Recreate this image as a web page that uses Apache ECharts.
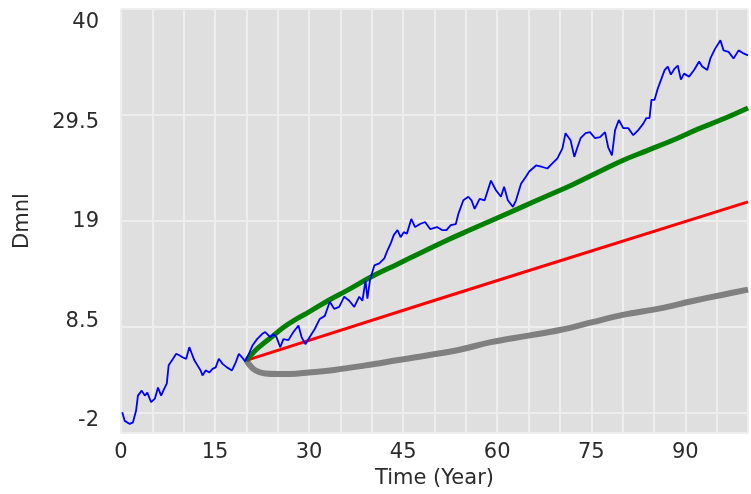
<!DOCTYPE html>
<html>
<head>
<meta charset="utf-8">
<script src="https://cdn.jsdelivr.net/npm/echarts@6/dist/echarts.min.js"></script>
<style>
  html, body { margin: 0; padding: 0; background: #fff; }
  #chart { width: 751px; height: 494px; }
</style>
</head>
<body>
<div id="chart"></div>
<script>
// values
var blueTime = [0.2, 0.6, 1.4, 1.9, 2.4, 2.7, 3.3, 3.8, 4.2, 4.8, 5.4, 5.9, 6.4, 6.9, 7.3, 7.6, 8.3, 8.8, 9.3, 9.8,
  10.4, 10.9, 11.3, 11.7, 12.2, 12.7, 13.0, 13.5, 14.1, 14.6, 15.1, 15.6, 16.2, 16.9, 17.7, 18.3, 18.8, 19.3, 19.8,
  20.4, 21.0, 21.7, 22.5, 23.0, 23.8, 24.3, 24.8, 25.4, 25.9, 26.7, 27.5, 28.3, 28.8, 29.4, 30.1, 30.9, 31.7, 32.5,
  33.3, 34.0, 34.8, 35.6, 36.4, 37.2, 38.0, 38.5, 39.0, 39.3, 39.7, 40.4, 41.2, 42.0, 42.5, 43.0, 43.5, 44.1, 44.6,
  45.1, 45.6, 46.3, 46.9, 47.7, 48.5, 49.3, 50.4, 51.2, 51.9, 52.6, 53.4, 53.8, 54.6, 55.4, 55.9, 56.4, 57.2, 58.0,
  59.0, 59.8, 60.6, 61.1, 61.7, 62.5, 63.0, 63.8, 64.6, 65.1, 66.2, 67.2, 68.0, 68.8, 69.6, 70.4, 70.9, 71.7, 72.3,
  72.8, 73.3, 74.1, 74.8, 75.6, 76.4, 77.2, 77.7, 78.3, 78.8, 79.4, 80.1, 80.9, 81.7, 82.5, 83.3, 83.8, 84.3, 84.6,
  85.1, 85.6, 86.2, 86.7, 87.2, 87.7, 88.3, 88.8, 89.3, 89.8, 90.6, 91.4, 92.2, 92.7, 93.5, 94.0, 94.7, 95.6, 96.1,
  96.9, 97.7, 98.5, 99.3, 100];
var blueValue = [0.05, -0.8, -1.1, -0.95, 0.2, 1.7, 2.2, 1.7, 2.0, 1.05, 1.4, 2.5, 1.7, 2.4, 2.9, 4.7, 5.35, 5.85, 5.7, 5.5,
  5.35, 6.5, 5.85, 5.2, 4.7, 4.2, 3.7, 4.2, 4.0, 4.35, 4.5, 5.35, 4.85, 4.5, 4.2, 5.0, 5.85, 5.5, 5.1,
  5.85, 6.7, 7.3, 7.8, 8.0, 7.5, 7.8, 7.5, 6.5, 7.3, 7.2, 8.0, 8.65, 7.5, 6.8, 7.5, 8.3, 9.3, 9.6,
  11.0, 10.3, 10.5, 11.5, 11.1, 10.5, 11.5, 11.1, 13.1, 11.3, 13.1, 14.6, 14.8, 15.3, 16.1, 16.75, 17.6, 18.1, 17.4,
  17.9, 17.75, 19.2, 18.4, 18.7, 18.9, 18.2, 18.4, 18.1, 18.1, 18.6, 18.7, 19.7, 21.05, 21.4, 21.05, 20.2, 21.2, 21.05,
  23.0, 22.05, 21.4, 22.4, 21.05, 20.4, 21.05, 22.7, 23.4, 23.9, 24.5, 24.35, 24.2, 24.7, 25.2, 26.2, 27.7, 27.0, 25.35,
  26.3, 27.2, 27.7, 27.8, 27.2, 27.3, 27.8, 26.3, 25.5, 28.0, 29.0, 28.2, 28.2, 27.5, 28.0, 28.65, 29.2, 29.2, 31.0,
  31.0, 32.1, 33.1, 33.95, 34.3, 33.5, 34.1, 34.4, 33.0, 33.6, 33.3, 33.95, 34.8, 34.3, 33.95, 35.1, 36.0, 36.9, 35.9,
  35.75, 35.1, 35.9, 35.6, 35.4];

var greenTime = [20, 21, 22, 24, 26, 28, 30, 33, 36, 40, 44, 48, 52, 56, 60, 64, 68, 72, 76, 80, 84, 88, 92, 96, 100];
var greenValue = [5.2, 5.9, 6.5, 7.5, 8.5, 9.3, 10.0, 11.1, 12.1, 13.5, 14.7, 15.9, 17.1, 18.2, 19.3, 20.4, 21.5, 22.6,
  23.8, 25.0, 26.0, 27.0, 28.1, 29.1, 30.2];

var redTime = [20, 48.8, 65.1, 100];
var redValue = [5.2, 10.9, 14.1, 20.9];

var grayTime = [20, 21, 22, 23, 25, 27, 30, 34, 39, 44, 49, 54, 59, 65, 70, 75, 80, 86, 91, 96, 100];
var grayValue = [5.2, 4.4, 4.05, 3.9, 3.85, 3.85, 4.0, 4.25, 4.7, 5.2, 5.7, 6.25, 7.0, 7.65, 8.2, 8.95, 9.7, 10.35,
  11.05, 11.7, 12.2];

var yMin = -2, yMax = 40, yStep = 10.5;
var xMax = 100, xStep = 5, xLabelStep = 15;

function pairs(t, v) {
  return t.map(function (x, i) { return [x, v[i]]; });
}

// Vensim spreads the y labels evenly, a bit inside the end ticks
var rich = {};
for (var i = 0; i < 5; i++) {
  var d = -12 + 6.4 * i;
  rich['s' + i] = {
    fontFamily: 'DejaVu Sans', fontSize: 21, color: '#2b2b2b',
    padding: d > 0 ? [2 * d, 0, 0, 0] : [0, 0, -2 * d, 0]
  };
}

var chart = echarts.init(document.getElementById('chart'));
var option = {
  backgroundColor: '#fff',
  animation: false,
  grid: {
    left: 121, right: -3, top: 9, bottom: 61,
    show: true, backgroundColor: '#dfdfdf', borderWidth: 0
  },
  xAxis: {
    type: 'value', min: 0, max: xMax, interval: xStep,
    name: 'Time (Year)', nameLocation: 'middle', nameGap: 35,
    nameTextStyle: { fontFamily: 'DejaVu Sans', fontSize: 21, color: '#2b2b2b' },
    axisLine: { show: false }, axisTick: { show: false },
    axisLabel: {
      fontFamily: 'DejaVu Sans', fontSize: 21, color: '#2b2b2b', margin: 9,
      formatter: function (v) { return v % xLabelStep === 0 ? String(v) : ''; }
    },
    splitLine: { show: true, lineStyle: { color: '#eeeeee', width: 2 } }
  },
  yAxis: {
    type: 'value', min: yMin, max: yMax, interval: yStep,
    name: 'Dmnl', nameLocation: 'middle', nameGap: 88, nameRotate: 90,
    nameTextStyle: { fontFamily: 'DejaVu Sans', fontSize: 21, color: '#2b2b2b' },
    axisLine: { show: false }, axisTick: { show: false },
    axisLabel: {
      margin: 22, rich: rich,
      formatter: function (v) {
        var k = Math.round((v - yMin) / yStep);
        return '{s' + k + '|' + v + '}';
      }
    },
    splitLine: { show: true, lineStyle: { color: '#eeeeee', width: 2 } }
  },
  series: [
    {
      type: 'line', data: [], z: 1, silent: true,
      markLine: {
        silent: true, symbol: 'none', label: { show: false },
        lineStyle: { color: '#eeeeee', width: 2, type: 'solid' },
        data: [{ yAxis: 0 }]
      }
    },
    {
      name: 'gray', type: 'line', data: pairs(grayTime, grayValue), z: 2, smooth: 0.4,
      showSymbol: false, lineStyle: { color: '#808080', width: 6 }
    },
    {
      name: 'red', type: 'line', data: pairs(redTime, redValue), z: 3,
      showSymbol: false, lineStyle: { color: '#ff0000', width: 3 }
    },
    {
      name: 'green', type: 'line', data: pairs(greenTime, greenValue), z: 4, smooth: 0.4,
      showSymbol: false, lineStyle: { color: '#008000', width: 5 }
    },
    {
      name: 'blue', type: 'line', data: pairs(blueTime, blueValue), z: 5,
      showSymbol: false, lineStyle: { color: '#0000ff', width: 1.8 }
    }
  ]
};
chart.setOption(option);
</script>
</body>
</html>
